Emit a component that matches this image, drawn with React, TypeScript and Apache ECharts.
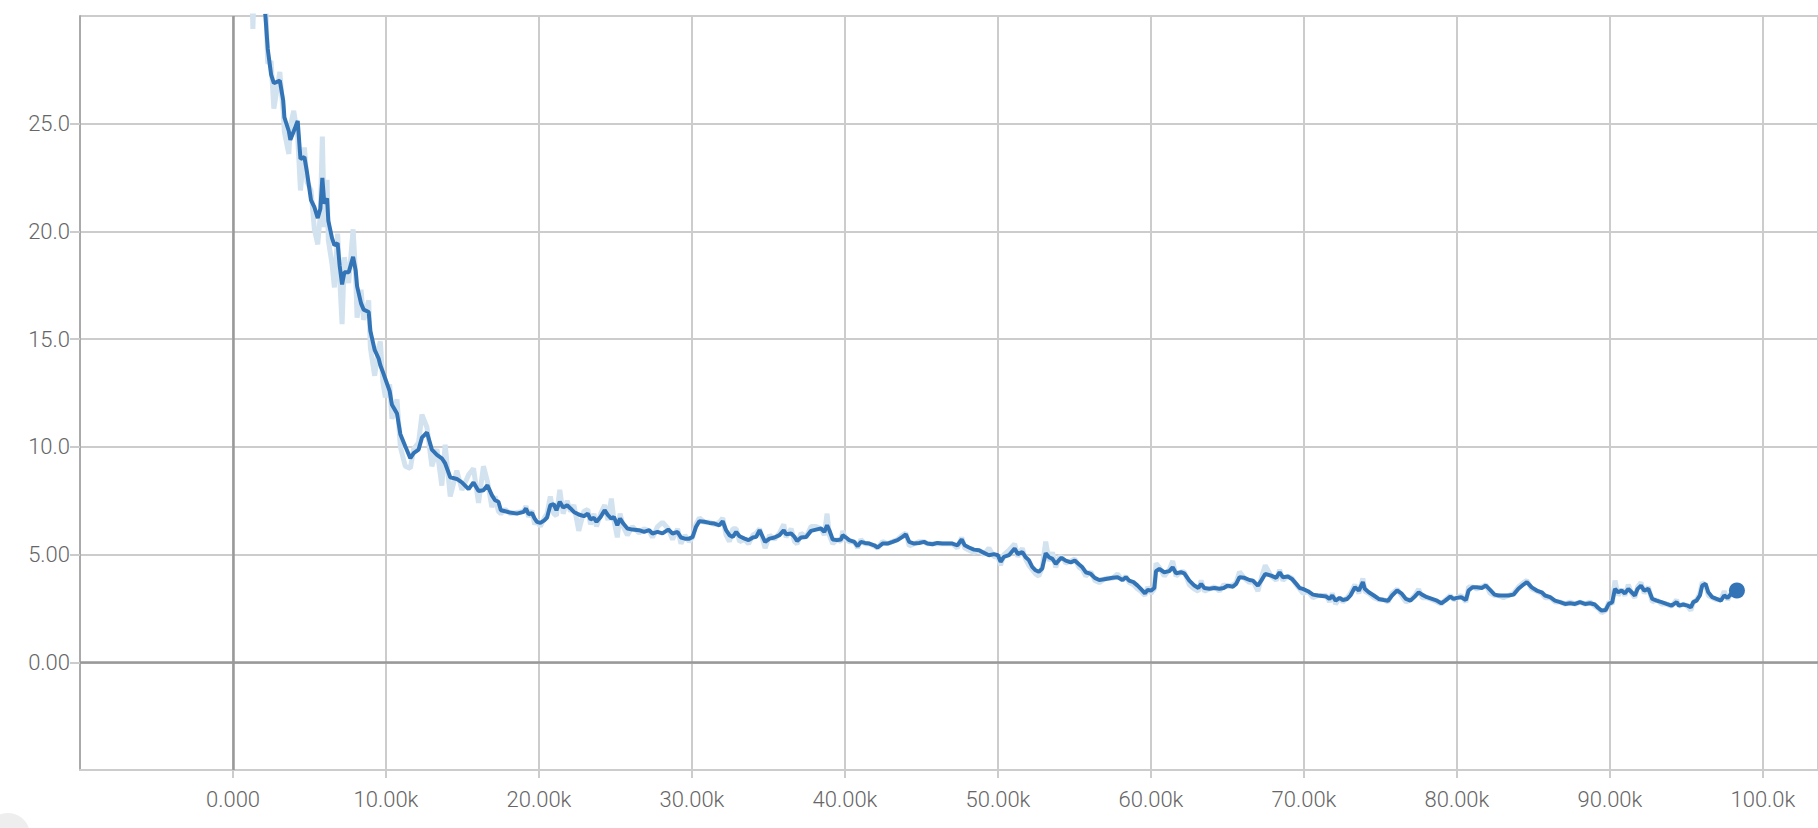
import React, { useEffect, useRef } from "react";
import * as echarts from "echarts";

// Training steps (x) for each sample
const steps = [
  500, 1000, 1300, 1600, 1850,
  2120, 2270, 2490, 2670, 3060, 3280, 3360, 3650, 3750, 3970, 4230, 4410, 4670, 4840, 5100,
  5320, 5540, 5710, 5840, 5970, 6150, 6230, 6470, 6630, 6840, 6970, 7130, 7280, 7560, 7850,
  8020, 8110, 8370, 8540, 8870, 8980, 9260, 9520, 9630, 9800, 9960, 10240, 10390, 10720, 10940,
  11260, 11590, 11810, 12130, 12350, 12680, 13000, 13330, 13650, 13870, 14200, 14630, 14960, 15400, 15720,
  16050, 16370, 16630, 16920, 17130, 17350, 17510, 17790, 18120, 18560, 19000, 19150, 19320, 19540, 19720,
  19870, 20090, 20350, 20530, 20740, 20960, 21140, 21360, 21580, 21840, 22060, 22280, 22600, 22930, 23190,
  23370, 23590, 23760, 24030, 24290, 24510, 24730, 24900, 25120, 25300, 25510, 25780, 26100, 26540, 26870,
  27200, 27420, 27750, 28070, 28450, 28730, 29060, 29280, 29540, 29820, 30040, 30260, 30480, 30810, 31140,
  31470, 31790, 32010, 32230, 32450, 32670, 32890, 33110, 33440, 33700, 33980, 34200, 34420, 34780, 35070,
  35390, 35720, 36000, 36150, 36480, 36700, 36870, 37130, 37460, 37780, 38110, 38430, 38650, 38830, 38980,
  39200, 39480, 39740, 39850, 40070, 40280, 40610, 40830, 41040, 41300, 41590, 41910, 42130, 42460, 42780,
  43110, 43430, 43760, 43980, 44200, 44520, 44850, 45170, 45390, 45720, 46040, 46370, 46700, 47020, 47350,
  47630, 47830, 48110, 48430, 48760, 49090, 49410, 49740, 50000, 50170, 50390, 50720, 51090, 51300, 51590,
  51800, 52020, 52240, 52460, 52670, 52890, 53120, 53340, 53560, 53780, 54000, 54150, 54430, 54760, 55020,
  55310, 55520, 55740, 56070, 56330, 56620, 57050, 57490, 57820, 58140, 58360, 58580, 58860, 59130, 59340,
  59610, 59780, 60000, 60220, 60330, 60550, 60870, 61200, 61420, 61640, 61970, 62180, 62510, 62840, 63100,
  63280, 63490, 63820, 64150, 64480, 64760, 65020, 65350, 65570, 65790, 66110, 66440, 66660, 66990, 67210,
  67470, 67860, 68190, 68410, 68620, 68950, 69210, 69500, 69720, 69930, 70260, 70590, 70920, 71460, 71670,
  71850, 72070, 72330, 72540, 72830, 73040, 73330, 73590, 73850, 73980, 74240, 74570, 74890, 75220, 75500,
  75760, 76090, 76370, 76670, 76960, 77240, 77500, 77720, 78040, 78370, 78700, 78980, 79240, 79570, 79780,
  80000, 80280, 80590, 80760, 81020, 81300, 81630, 81890, 82170, 82460, 82720, 83040, 83370, 83700, 84020,
  84350, 84570, 84890, 85220, 85540, 85760, 86090, 86410, 86740, 87070, 87390, 87720, 88040, 88370, 88700,
  89020, 89240, 89460, 89720, 89930, 90150, 90330, 90540, 90760, 90980, 91200, 91420, 91630, 91810, 92030,
  92240, 92510, 92770, 93050, 93380, 93700, 94030, 94360, 94510, 94790, 95080, 95290, 95450, 95660, 95880,
  96030, 96250, 96430, 96690, 96970, 97250, 97470, 97690, 97910, 98210, 98300,
];

// Smoothed loss (dark line)
const smoothed = [
  52, 42, 37, 34, 31.8,
  30.0, 28.48, 27.28, 26.88, 27.0, 26.09, 25.29, 24.65, 24.25, 24.65, 25.13, 23.37, 23.45, 22.73, 21.45,
  21.13, 20.62, 21.05, 22.49, 21.29, 21.53, 20.5, 19.7, 19.35, 19.46, 18.42, 17.54, 18.1, 18.1, 18.82,
  18.18, 17.46, 16.66, 16.37, 16.26, 15.38, 14.5, 14.1, 13.79, 13.47, 13.15, 12.59, 11.95, 11.55, 10.59,
  10.03, 9.47, 9.71, 9.87, 10.43, 10.67, 9.87, 9.63, 9.47, 9.23, 8.59, 8.51, 8.35, 8.04, 8.35,
  7.95, 7.99, 8.22, 7.76, 7.52, 7.45, 7.06, 7.01, 6.95, 6.9, 6.98, 7.14, 6.87, 6.93, 6.67,
  6.52, 6.47, 6.59, 6.72, 7.29, 7.34, 7.06, 7.45, 7.18, 7.29, 7.14, 6.98, 6.86, 6.78, 6.9,
  6.63, 6.7, 6.52, 6.75, 7.06, 6.83, 6.67, 6.75, 6.36, 6.67, 6.44, 6.21, 6.16, 6.13, 6.05,
  6.13, 5.98, 6.05, 5.98, 6.16, 5.98, 6.05, 5.79, 5.74, 5.74, 5.82, 6.28, 6.55, 6.52, 6.47,
  6.44, 6.36, 6.55, 6.13, 5.9, 5.82, 6.05, 5.85, 5.74, 5.67, 5.79, 5.82, 6.13, 5.59, 5.74,
  5.79, 5.9, 6.13, 5.94, 5.98, 5.82, 5.63, 5.79, 5.82, 6.1, 6.16, 6.21, 6.05, 6.36, 6.13,
  5.7, 5.67, 5.7, 5.9, 5.79, 5.67, 5.59, 5.39, 5.59, 5.54, 5.51, 5.43, 5.33, 5.51, 5.51,
  5.59, 5.67, 5.82, 5.94, 5.59, 5.51, 5.54, 5.59, 5.51, 5.48, 5.54, 5.51, 5.51, 5.51, 5.43,
  5.7, 5.43, 5.33, 5.23, 5.2, 5.08, 4.97, 5.02, 4.97, 4.66, 4.89, 4.97, 5.28, 5.02, 5.12,
  4.89, 4.74, 4.43, 4.27, 4.2, 4.35, 5.06, 4.88, 4.8, 4.57, 4.75, 4.85, 4.72, 4.64, 4.72,
  4.54, 4.41, 4.18, 4.1, 3.92, 3.82, 3.87, 3.92, 3.95, 3.82, 3.95, 3.79, 3.72, 3.56, 3.41,
  3.2, 3.36, 3.33, 3.45, 4.23, 4.33, 4.18, 4.23, 4.41, 4.13, 4.18, 4.13, 3.79, 3.56, 3.45,
  3.64, 3.45, 3.41, 3.45, 3.41, 3.45, 3.56, 3.51, 3.64, 3.95, 3.92, 3.82, 3.79, 3.56, 3.79,
  4.1, 4.02, 3.92, 4.18, 3.95, 3.98, 3.87, 3.64, 3.45, 3.41, 3.3, 3.14, 3.1, 3.05, 2.94,
  3.1, 2.86, 2.99, 2.89, 2.94, 3.1, 3.48, 3.33, 3.72, 3.41, 3.25, 3.1, 2.94, 2.89, 2.86,
  3.1, 3.33, 3.2, 2.94, 2.86, 3.05, 3.25, 3.14, 3.02, 2.94, 2.86, 2.74, 2.86, 3.05, 2.94,
  2.99, 3.02, 2.89, 3.33, 3.48, 3.48, 3.45, 3.56, 3.36, 3.14, 3.1, 3.1, 3.1, 3.14, 3.41,
  3.61, 3.72, 3.48, 3.33, 3.25, 3.1, 3.02, 2.86, 2.79, 2.71, 2.74, 2.71, 2.79, 2.71, 2.74,
  2.68, 2.52, 2.4, 2.43, 2.71, 2.79, 3.41, 3.25, 3.33, 3.2, 3.41, 3.25, 3.1, 3.41, 3.56,
  3.33, 3.41, 2.94, 2.86, 2.79, 2.71, 2.63, 2.79, 2.63, 2.68, 2.63, 2.55, 2.79, 2.86, 3.1,
  3.56, 3.64, 3.25, 3.02, 2.94, 2.86, 3.1, 2.99, 3.17, 3.36, 3.33,
];

// Raw loss (faint line)
const raw = [
  50, 38, 29.4, 36, 31,
  31.0, 27.8, 27.9, 25.7, 27.4, 25.6, 24.6, 23.6, 24.9, 25.6, 24.4, 21.9, 23.9, 22.3, 21.9,
  20.1, 19.4, 20.8, 24.4, 20.2, 22.4, 19.6, 18.5, 17.4, 19.9, 17.9, 15.7, 18.8, 17.6, 20.1,
  17.9, 16.0, 17.3, 15.9, 16.8, 14.6, 13.3, 14.6, 14.9, 13.0, 12.3, 12.9, 11.3, 12.2, 10.0,
  9.1, 9.0, 9.9, 10.2, 11.5, 10.9, 9.1, 9.9, 8.2, 10.1, 7.7, 8.9, 8.0, 8.7, 9.0,
  7.4, 9.1, 8.4, 7.2, 7.7, 7.0, 6.9, 7.1, 6.9, 6.95, 7.0, 7.25, 6.75, 7.05, 6.4,
  6.6, 6.3, 6.7, 6.9, 7.7, 6.9, 6.8, 8.0, 6.9, 7.5, 7.0, 7.3, 6.1, 7.0, 7.1,
  6.4, 6.9, 6.3, 6.9, 7.3, 6.6, 7.6, 6.6, 5.8, 6.9, 6.3, 5.9, 6.3, 6.0, 6.2,
  6.1, 5.8, 6.3, 6.5, 6.2, 5.7, 6.2, 5.5, 5.9, 5.6, 5.8, 6.4, 6.7, 6.5, 6.5,
  6.4, 6.5, 6.7, 5.9, 5.6, 6.2, 6.2, 5.6, 5.7, 5.5, 5.9, 6.0, 6.2, 5.3, 5.9,
  5.7, 6.0, 6.4, 5.8, 6.2, 5.6, 5.5, 6.0, 5.8, 6.3, 6.3, 6.2, 5.9, 6.9, 5.9,
  5.5, 5.7, 5.6, 6.1, 5.7, 5.6, 5.6, 5.3, 5.7, 5.5, 5.5, 5.4, 5.3, 5.6, 5.5,
  5.6, 5.7, 5.9, 6.0, 5.4, 5.5, 5.6, 5.6, 5.5, 5.5, 5.5, 5.5, 5.5, 5.5, 5.3,
  5.8, 5.3, 5.2, 5.1, 5.2, 5.0, 5.3, 4.9, 4.9, 4.5, 5.0, 5.2, 5.5, 4.9, 5.3,
  4.8, 4.5, 4.3, 4.1, 4.0, 4.4, 5.6, 4.7, 5.1, 4.4, 4.9, 4.9, 4.6, 4.7, 4.8,
  4.4, 4.3, 4.0, 4.2, 3.8, 3.7, 3.9, 3.9, 4.1, 3.8, 4.0, 3.7, 3.6, 3.4, 3.3,
  3.1, 3.5, 3.2, 3.4, 4.6, 4.4, 4.0, 4.3, 4.7, 4.0, 4.2, 4.2, 3.6, 3.4, 3.3,
  3.8, 3.3, 3.4, 3.5, 3.3, 3.6, 3.5, 3.6, 3.7, 4.2, 3.9, 3.7, 3.8, 3.3, 3.9,
  4.5, 4.0, 3.8, 4.3, 3.8, 4.0, 3.9, 3.6, 3.4, 3.2, 3.3, 3.0, 3.1, 3.1, 2.8,
  3.2, 2.7, 3.0, 2.8, 3.0, 3.2, 3.6, 3.2, 3.9, 3.3, 3.2, 3.0, 2.9, 2.9, 2.8,
  3.2, 3.4, 3.1, 2.8, 2.9, 3.1, 3.4, 3.0, 3.0, 2.9, 2.8, 2.7, 2.9, 3.1, 2.9,
  3.0, 3.1, 2.8, 3.5, 3.5, 3.4, 3.5, 3.6, 3.2, 3.1, 3.1, 3.0, 3.1, 3.2, 3.5,
  3.7, 3.8, 3.4, 3.3, 3.2, 3.0, 3.0, 2.8, 2.8, 2.7, 2.8, 2.7, 2.8, 2.7, 2.8,
  2.6, 2.5, 2.3, 2.4, 2.8, 2.7, 3.8, 3.1, 3.4, 3.1, 3.6, 3.2, 3.0, 3.5, 3.7,
  3.2, 3.5, 2.8, 2.9, 2.7, 2.7, 2.6, 2.9, 2.6, 2.7, 2.6, 2.4, 2.8, 2.9, 3.2,
  3.7, 3.6, 3.1, 3.0, 2.9, 2.9, 3.3, 2.9, 3.2, 3.4, 3.3,
];

const LINE_COLOR = "#3374b6";
const RAW_COLOR = "#d3e2ef";
const GRID_COLOR = "#cccccc";
const LABEL_COLOR = "#666666";

const fmtX = (v: number) => (v === 0 ? "0.000" : (v / 1000).toPrecision(4) + "k");
const fmtY = (v: number) => v.toPrecision(3);

export default function App() {
  const ref = useRef<HTMLDivElement>(null);

  useEffect(() => {
    document.body.style.margin = "0";
    if (!ref.current) return;
    const chart = echarts.init(ref.current, undefined, { renderer: "svg" });

    const smoothData = steps.map((s, i) => [s, smoothed[i]]);
    const rawData = steps.map((s, i) => [s, raw[i]]);
    const last = steps.length - 1;

    const labelStyle = {
      color: LABEL_COLOR,
      fontSize: 22,
      fontFamily: "Roboto, 'Helvetica Neue', Arial, sans-serif",
      fontWeight: 300 as any,
    };

    chart.setOption({
      animation: false,
      backgroundColor: "#ffffff",
      grid: { left: 80, right: 0, top: 16, bottom: 58, containLabel: false },
      xAxis: {
        type: "value",
        min: -10000,
        max: 103600,
        interval: 10000,
        axisLine: { show: true, onZero: false, lineStyle: { color: GRID_COLOR, width: 2 } },
        axisTick: { show: true, length: 8, lineStyle: { color: GRID_COLOR, width: 2 } },
        axisLabel: { ...labelStyle, formatter: fmtX, showMinLabel: false, margin: 18 },
        splitLine: { show: true, lineStyle: { color: GRID_COLOR, width: 2 } },
      },
      yAxis: {
        type: "value",
        min: -5,
        max: 30,
        interval: 5,
        axisLine: { show: true, onZero: false, lineStyle: { color: "#aaaaaa", width: 2 } },
        axisTick: { show: true, length: 10, lineStyle: { color: GRID_COLOR, width: 2 } },
        axisLabel: { ...labelStyle, formatter: fmtY, showMinLabel: false, showMaxLabel: false, margin: 10 },
        splitLine: { show: true, lineStyle: { color: GRID_COLOR, width: 2 } },
      },
      graphic: [
        { type: "circle", left: -14, top: 813, shape: { r: 22 }, style: { fill: "#eeeeee" }, z: -1 },
      ],
      series: [
        {
          type: "line",
          name: "raw",
          data: rawData,
          showSymbol: false,
          silent: true,
          z: 2,
          lineStyle: { color: RAW_COLOR, width: 5 },
          markLine: {
            silent: true,
            symbol: "none",
            label: { show: false },
            lineStyle: { color: "#999999", width: 2.5, type: "solid" },
            data: [{ xAxis: 0 }, { yAxis: 0 }],
          },
        },
        {
          type: "line",
          name: "smoothed",
          data: smoothData,
          showSymbol: false,
          z: 3,
          lineStyle: { color: LINE_COLOR, width: 4 },
        },
        {
          type: "scatter",
          data: [[steps[last], smoothed[last]]],
          symbolSize: 16,
          z: 4,
          itemStyle: { color: LINE_COLOR, opacity: 1 },
        },
      ],
    });

    return () => chart.dispose();
  }, []);

  return (
    <div
      ref={ref}
      style={{ position: "absolute", left: 0, top: 0, width: 1818, height: 828 }}
    />
  );
}
